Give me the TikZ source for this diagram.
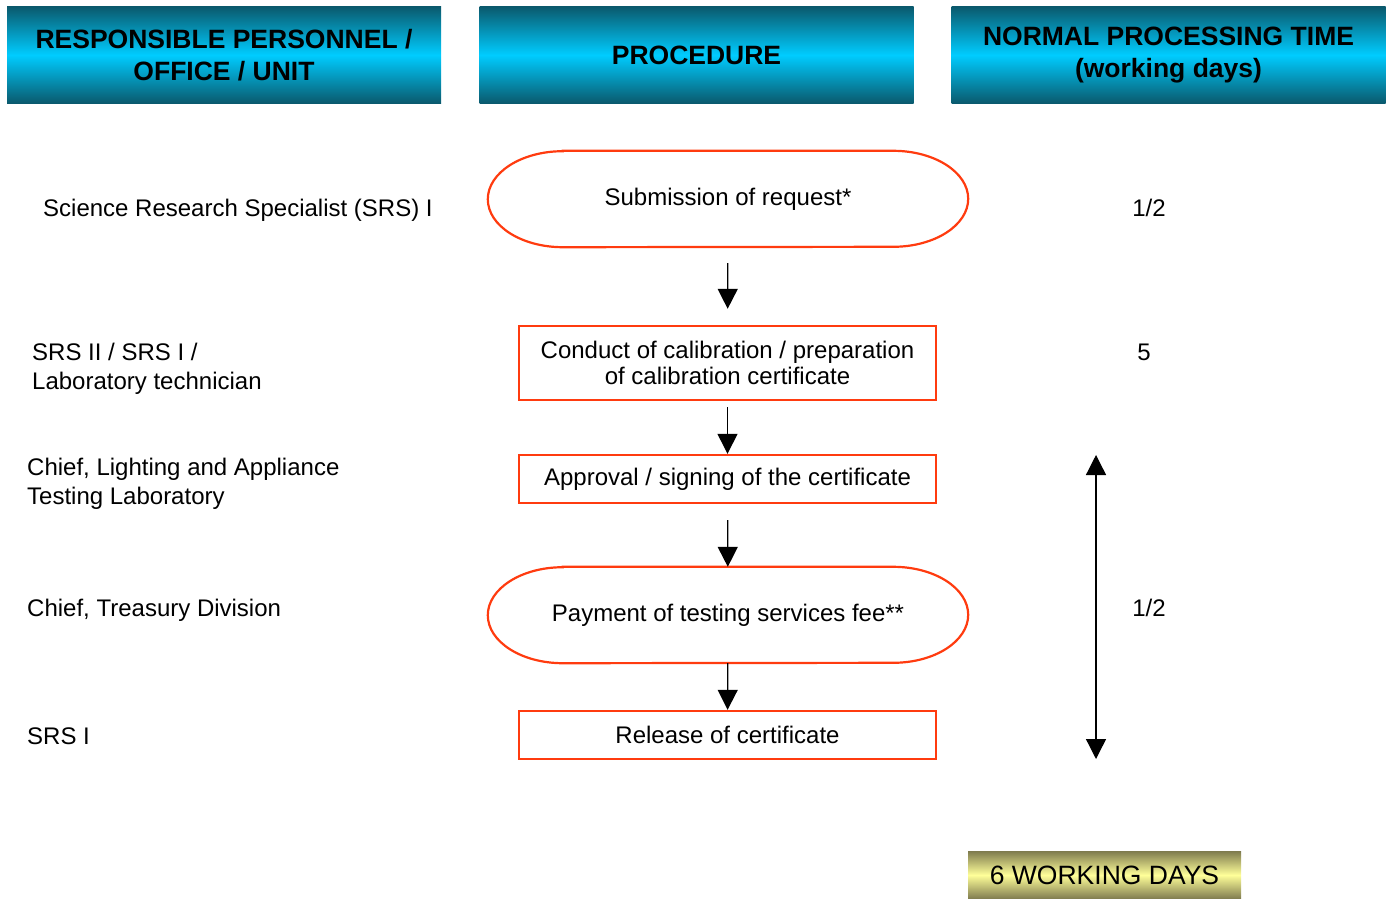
\documentclass[tikz,border=0pt]{standalone}
\usepackage{fontspec}
\setmainfont{Liberation Sans}
\usepackage{tikz}
\usetikzlibrary{arrows.meta,positioning}
\definecolor{Ink}{HTML}{000000}
\definecolor{HeadDark}{HTML}{0A5A6E}
\definecolor{HeadLight}{HTML}{00CCFF}
\definecolor{GoldDark}{HTML}{7E7A4E}
\definecolor{GoldLight}{HTML}{FFFF99}
\definecolor{Flame}{HTML}{FF3B0F}
\tikzset{
  headbox/.style={top color=HeadDark,bottom color=HeadDark,middle color=HeadLight,draw=none,minimum width=434pt,minimum height=96pt,align=center,text=Ink,font=\fontsize{26.5}{32}\selectfont\bfseries},
  procbox/.style={draw=Flame,line width=2.4pt,fill=white,minimum width=417pt,align=center,text=Ink,font=\fontsize{24}{26}\selectfont},
  terminal/.style={draw=none,minimum width=480pt,minimum height=96pt,align=center,text=Ink,font=\fontsize{24}{26}\selectfont},
  terminalLine/.style={draw=Flame,line width=2.2pt},
  person/.style={anchor=west,align=left,inner sep=0pt,text=Ink,font=\fontsize{24}{29}\selectfont},
  days/.style={inner sep=0pt,text=Ink,font=\fontsize{24}{29}\selectfont},
  totalbox/.style={top color=GoldDark,bottom color=GoldDark,middle color=GoldLight,draw=none,minimum width=273pt,minimum height=48pt,text=Ink,font=\fontsize{26.5}{32}\selectfont},
  arrow/.style={-{Triangle[width=20pt,length=20pt]},line width=1.3pt,draw=Ink},
  bothArrow/.style={{Triangle[width=20pt,length=20pt]}-{Triangle[width=20pt,length=20pt]},line width=1.3pt,draw=Ink}
}
\begin{document}
\begin{tikzpicture}[x=1pt,y=1pt]
  \useasboundingbox (0,0) rectangle (1389,-899);
  \node[headbox] (hdrUnit) at (224,-55) {RESPONSIBLE PERSONNEL /\\OFFICE / UNIT};
  \node[headbox] (hdrProc) at (696.5,-55) {PROCEDURE};
  \node[headbox] (hdrTime) at (1168.5,-55) {NORMAL PROCESSING TIME\\(working days)};
  \node[person] (whoReq) at (43,-210) {Science Research Specialist (SRS) I};
  \node[person] (whoCalib) at (32,-368.5) {SRS II / SRS I /\\Laboratory technician};
  \node[person] (whoApprove) at (27,-483.5) {Chief, Lighting and Appliance\\Testing Laboratory};
  \node[person] (whoPay) at (27,-610) {Chief, Treasury Division};
  \node[person] (whoRelease) at (27,-736) {SRS I};
  \node[terminal] (req) at (728,-199) {Submission of request*};
  \node[procbox,minimum height=74pt] (calib) at (727.5,-363) {Conduct of calibration / preparation\\of calibration certificate};
  \node[procbox,minimum height=48pt] (approve) at (727.5,-479) {Approval / signing of the certificate};
  \node[terminal] (pay) at (728,-615) {Payment of testing services fee**};
  \node[procbox,minimum height=48pt] (release) at (727.5,-735) {Release of certificate};
  \foreach \n in {req,pay}
    \draw[terminalLine] ([xshift=75pt]\n.north west) -- ([xshift=-75pt]\n.north east) arc[start angle=90,end angle=-90,x radius=75pt,y radius=48pt] -- ([xshift=75pt]\n.south west) arc[start angle=270,end angle=90,x radius=75pt,y radius=48pt] -- cycle;
  \draw[arrow,shorten <=16pt,shorten >=16pt] (req)--(calib); \draw[arrow,shorten <=6pt] (calib)--(approve);
  \draw[arrow,shorten <=16pt] (approve)--(pay); \draw[arrow] (pay)--(release);
  \node[days] (dayReq) at (1149,-208) {1/2};
  \node[days] (dayCalib) at (1144,-352) {5};
  \node[days] (dayRest) at (1149,-608) {1/2};
  \coordinate (spanTop) at (1096,-455); \coordinate (spanBot) at (1096,-759);
  \draw[bothArrow] (spanTop)--(spanBot);
  \node[totalbox] (total) at (1104.5,-875) {6 WORKING DAYS};
\end{tikzpicture}
\end{document}
